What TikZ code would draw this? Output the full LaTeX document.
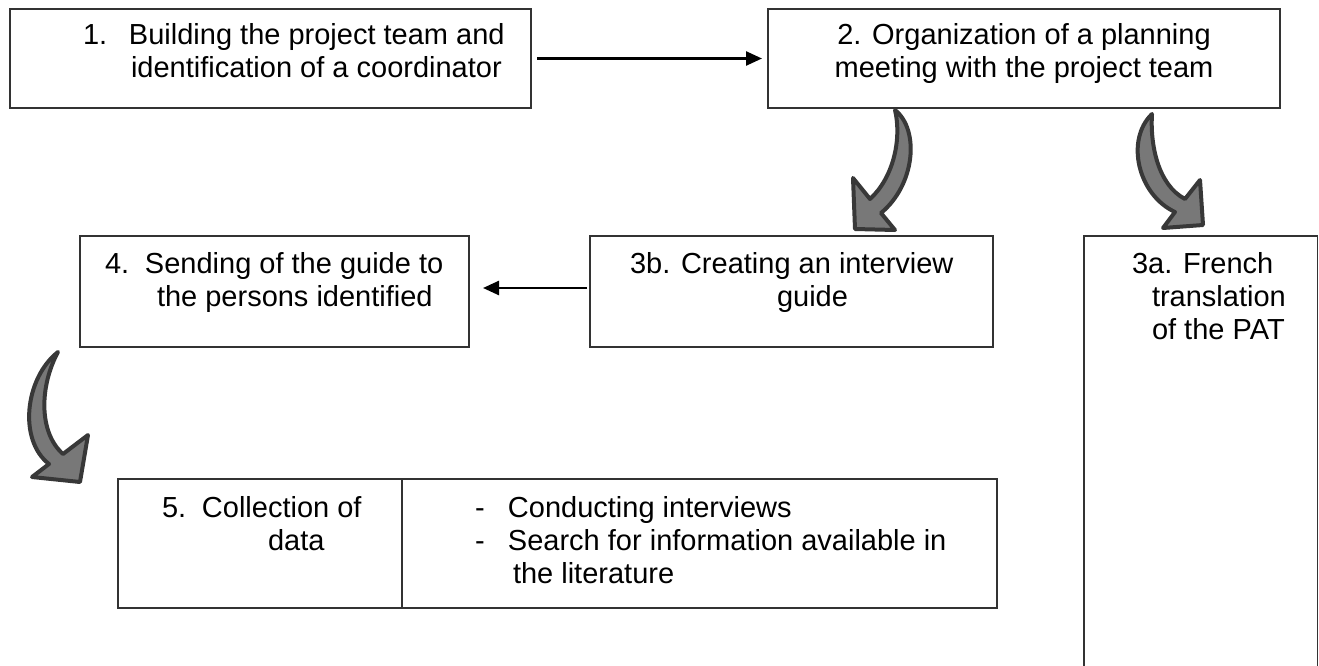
\documentclass[tikz,border=0pt]{standalone}
\usepackage{fontspec}
\setmainfont{Liberation Sans}
\usetikzlibrary{arrows.meta}
\newlength{\du}
\setlength{\du}{1pt}
\definecolor{boxlinecolor}{rgb}{0.200000, 0.200000, 0.200000}
\definecolor{bentfillcolor}{rgb}{0.470000, 0.470000, 0.470000}
\definecolor{bentlinecolor}{rgb}{0.220000, 0.220000, 0.220000}
\tikzset{
  stepbox/.style={draw=boxlinecolor, line width=1.5\du, inner sep=0pt, outer sep=0pt},
  steptext/.style={inner sep=0pt, outer sep=0pt, font=\fontsize{29\du}{33\du}\selectfont},
  flowarrow/.style={draw=black, line width=2.5\du, -{Triangle[length=16pt,width=14pt]}},
  bentarrow/.style={fill=bentfillcolor, draw=bentlinecolor, line width=4\du, line join=round}
}
\begin{document}
\begin{tikzpicture}
\pgftransformxscale{1.000000}
\pgftransformyscale{-1.000000}
\useasboundingbox (0.000000\du,0.000000\du) rectangle (1319.000000\du,666.000000\du);
% boxes
\node[stepbox, minimum width=521\du, minimum height=99\du] (build) at (270.500000\du,58.500000\du) {};
\node[stepbox, minimum width=512\du, minimum height=99\du] (plan) at (1024.000000\du,58.500000\du) {};
\node[stepbox, minimum width=403\du, minimum height=111\du] (guide) at (791.500000\du,291.500000\du) {};
\node[stepbox, minimum width=389\du, minimum height=111\du] (send) at (274.500000\du,291.500000\du) {};
\node[stepbox, minimum width=233.5\du, minimum height=464\du] (translate) at (1200.750000\du,468.000000\du) {};
\node[stepbox, minimum width=879\du, minimum height=129\du] (collect) at (557.500000\du,543.500000\du) {};
\draw[draw=boxlinecolor, line width=1.5\du] (402\du,0 |- collect.north) -- (402\du,0 |- collect.south);
% texts
\node[steptext, anchor=base west] (buildA) at (83.000000\du,45.000000\du) {\makebox[46pt][l]{1.}Building the project team and};
\node[steptext, anchor=base west] (buildB) at (131.000000\du,78.000000\du) {identification of a coordinator};
\node[steptext, anchor=base] (planA) at (1024.000000\du,45.000000\du) {2. Organization of a planning};
\node[steptext, anchor=base] (planB) at (1024.000000\du,78.000000\du) {meeting with the project team};
\node[steptext, anchor=base west] (guideA) at (630.000000\du,273.000000\du) {3b. Creating an interview};
\node[steptext, anchor=base west] (guideB) at (777.000000\du,306.000000\du) {guide};
\node[steptext, anchor=base west] (sendA) at (105.000000\du,273.000000\du) {\makebox[40pt][l]{4.}Sending of the guide to};
\node[steptext, anchor=base west] (sendB) at (157.000000\du,306.000000\du) {the persons identified};
\node[steptext, anchor=base west] (translateA) at (1132.000000\du,273.000000\du) {3a. French};
\node[steptext, anchor=base west] (translateB) at (1152.000000\du,306.000000\du) {translation};
\node[steptext, anchor=base west] (translateC) at (1152.000000\du,339.000000\du) {of the PAT};
\node[steptext, anchor=base west] (collectA) at (162.000000\du,517.000000\du) {\makebox[40pt][l]{5.}Collection of};
\node[steptext, anchor=base west] (collectB) at (268.000000\du,550.000000\du) {data};
\node[steptext, anchor=base west] (collectC) at (475.000000\du,517.000000\du) {\makebox[33pt][l]{-}Conducting interviews};
\node[steptext, anchor=base west] (collectD) at (475.000000\du,550.000000\du) {\makebox[33pt][l]{-}Search for information available in};
\node[steptext, anchor=base west] (collectE) at (513.000000\du,583.000000\du) {the literature};
% straight arrows
\draw[flowarrow, shorten <=6pt, shorten >=6pt] (build.east) -- (plan.west);
\draw[flowarrow, shorten <=3pt, shorten >=14pt] (guide.west |- 0,288\du) -- (send.east |- 0,288\du);
% bent arrows
\filldraw[bentarrow] (895\du,110\du) .. controls (920\du,130\du) and (915\du,185\du) .. (881\du,213\du) -- (895\du,230\du) -- (855\du,229\du) -- (853\du,178\du) -- (870\du,199\du) .. controls (893\du,178\du) and (902\du,140\du) .. (895\du,110\du) -- cycle;
\filldraw[bentarrow] (1152\du,114\du) .. controls (1125\du,140\du) and (1138\du,195\du) .. (1175\du,212\du) -- (1163\du,228\du) -- (1203\du,225\du) -- (1200\du,180\du) -- (1185\du,199\du) .. controls (1158\du,185\du) and (1150\du,145\du) .. (1152\du,114\du) -- cycle;
\filldraw[bentarrow] (58\du,352\du) .. controls (25\du,378\du) and (18\du,440\du) .. (49\du,464\du) -- (32\du,477\du) -- (80\du,482\du) -- (88\du,435\du) -- (63\du,454\du) .. controls (38\du,432\du) and (40\du,385\du) .. (58\du,352\du) -- cycle;
\end{tikzpicture}
\end{document}
